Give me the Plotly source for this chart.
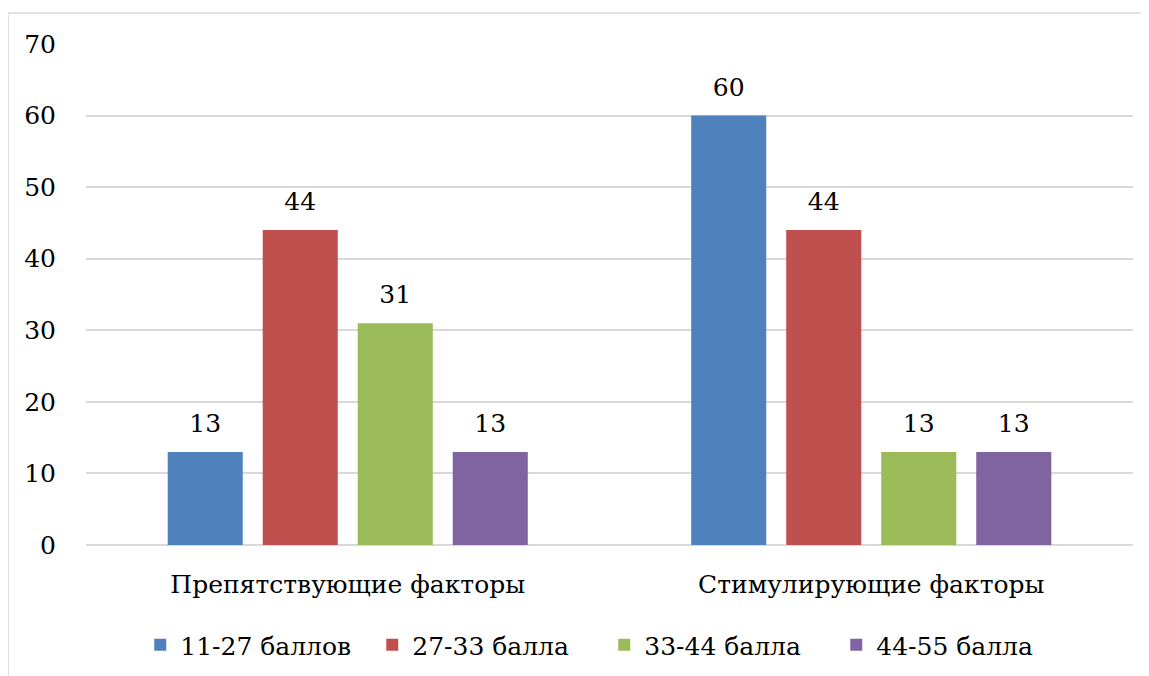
import plotly.graph_objects as go

categories = ["Препятствующие факторы", "Стимулирующие факторы"]
series_names = ["11-27 баллов", "27-33 балла", "33-44 балла", "44-55 балла"]
values = [
    [13, 60],
    [44, 44],
    [31, 13],
    [13, 13],
]
colors = ["#4F81BD", "#C0504D", "#9BBB59", "#8064A2"]
y_ticks = [0, 10, 20, 30, 40, 50, 60, 70]

FONT = "DejaVu Serif"
FS = 25
BARGAP = 0.274

fig = go.Figure()
for i, (name, vals, col) in enumerate(zip(series_names, values, colors)):
    fig.add_trace(go.Bar(
        x=categories, y=vals, name=name, offsetgroup=str(i),
        marker=dict(color=col, line=dict(width=0)),
    ))
for i, vals in enumerate(values):
    fig.add_trace(go.Scatter(
        x=categories, y=vals, mode="markers+text", offsetgroup=str(i),
        text=[str(v) for v in vals], textposition="top center",
        textfont=dict(family=FONT, size=FS, color="black"),
        marker=dict(size=20, opacity=0, color="white"),
        showlegend=False, hoverinfo="skip", cliponaxis=False,
    ))

fig.update_layout(
    width=1141, height=668,
    margin=dict(l=78, r=16, t=36, b=131),
    paper_bgcolor="white", plot_bgcolor="white",
    barmode="group", bargap=BARGAP, bargroupgap=0.21,
    scattermode="group", scattergap=BARGAP,
    font=dict(family=FONT, size=FS, color="black"),
    legend=dict(orientation="h", x=0.495, xanchor="center", yref="container", y=0.0464, yanchor="middle",
                font=dict(family=FONT, size=FS, color="black"), itemwidth=30, entrywidth=187),
    xaxis=dict(showline=False, ticks="", tickfont=dict(family=FONT, size=FS), ticklabelstandoff=22,
               automargin=False),
    yaxis=dict(range=[0, 70], tickvals=y_ticks, showgrid=True, gridcolor="#d9d9d9", gridwidth=1.5,
               zeroline=True, zerolinecolor="#d9d9d9", zerolinewidth=1.5, automargin=False,
               tickfont=dict(family=FONT, size=FS), ticklabelstandoff=29),
    shapes=[dict(type="rect", xref="paper", yref="paper",
                 x0=-0.0745, x1=1.2, y0=-0.3, y1=1.0619,
                 line=dict(color="#d9d9d9", width=1.5), layer="below")],
)

fig.write_html("out.html")
